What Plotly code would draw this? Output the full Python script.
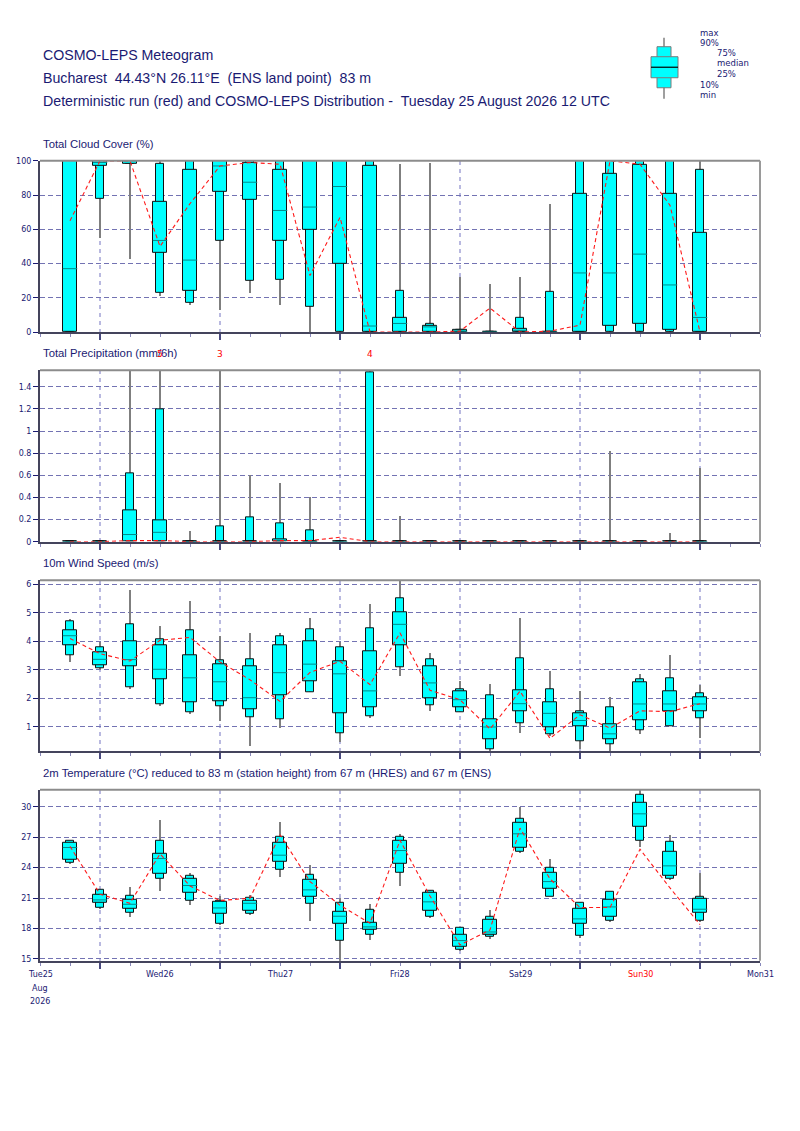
import plotly.graph_objects as go

# time axis: hours after Tue 25 Aug 2026 12 UTC
hours = [6, 12, 18, 24, 30, 36, 42, 48, 54, 60, 66,
         72, 78, 84, 90, 96, 102, 108, 114, 120, 126, 132]
midnight_hours = [12, 36, 60, 84, 108, 132]
day_hours = [0, 24, 48, 72, 96, 120, 144]
day_labels = ['Tue25', 'Wed26', 'Thu27', 'Fri28', 'Sat29', 'Sun30', 'Mon31']
day_colors = ['#1a1a72', '#1a1a72', '#1a1a72', '#1a1a72', '#1a1a72', 'red', '#1a1a72']
first_day_extra = ['Aug', '2026']

# Total cloud cover (%)
cc_min = [0, 55, 43, 21, 16, 13, 23, 16, 0, 0, 0, 0, 0, 0, 0, 0, 0, 0, 0, 0, 0, 0]
cc_p10 = [0, 78, 98, 23, 17, 53, 30, 30.5, 15, 0, 0, 0, 0, 0, 0, 0, 0, 0, 0, 0, 0, 0]
cc_p25 = [0, 97, 98, 46, 24, 82, 77, 53.5, 59.5, 40, 0, 0, 0, 0, 0, 0, 0, 0, 3.5, 5, 1.5, 0]
cc_med = [37, 99, 100, 53.5, 42, 97, 87.5, 71, 73, 85, 3.5, 5, 3, 0.5, 0, 1, 0, 34.5, 34.5, 45.5, 27.5, 8.5]
cc_p75 = [100, 100, 100, 76, 95, 100, 99, 95, 100, 100, 97, 8, 3.5, 1, 0, 2, 0, 81, 92.5, 97.5, 81, 58]
cc_p90 = [100, 100, 100, 98, 100, 100, 100, 100, 100, 100, 100, 24, 4.5, 1, 0, 8.5, 23.5, 100, 100, 100, 100, 94.5]
cc_max = [100, 100, 100, 100, 100, 100, 100, 100, 100, 100, 100, 98, 99, 32, 28, 32, 75, 100, 100, 100, 100, 100]
cc_det = [65, 100, 100, 50, 75, 97, 99, 98, 33, 67, 0, 0, 0, 0.5, 14, 0, 0.5, 4, 100, 98, 74, 0]

# Total precipitation (mm/6h)
tp_min = [0] * 22
tp_p10 = [0] * 22
tp_p25 = [0] * 22
tp_med = [0, 0, 0.065, 0.085, 0, 0, 0, 0.01, 0.003, 0, 0, 0, 0, 0, 0, 0, 0, 0, 0, 0, 0, 0]
tp_p75 = [0, 0, 0.28, 0.19, 0, 0, 0, 0.02, 0.005, 0, 0, 0, 0, 0, 0, 0, 0, 0, 0, 0, 0, 0]
tp_p90 = [0, 0, 0.62, 1.2, 0, 0.14, 0.22, 0.165, 0.1, 0, 1.53, 0, 0, 0, 0, 0, 0, 0, 0, 0, 0, 0]
tp_max = [0, 0.01, 1.54, 5, 0.09, 3, 0.6, 0.53, 0.4, 0.01, 4, 0.23, 0, 0, 0, 0, 0, 0, 0.82, 0, 0.075, 0.66]
tp_det = [0, 0, 0.01, 0.01, 0, 0, 0, 0.01, 0.01, 0.04, 0, 0, 0, 0, 0, 0, 0, 0, 0, 0, 0, 0]

# 10m wind speed (m/s)
ws_min = [3.28, 2.98, 2.32, 1.72, 1.43, 1.2, 0.3, 0.93, 2.2, 0.46, 1.28, 2.76, 1.56, 1.5, 0.15, 0.77, 0.65, 0.2, 0.15, 0.75, 1.0, 0.6]
ws_p10 = [3.5, 3.05, 2.38, 1.78, 1.51, 1.71, 1.33, 1.25, 2.2, 0.76, 1.36, 3.1, 1.76, 1.5, 0.21, 1.13, 0.74, 0.49, 0.4, 0.86, 1.0, 1.31]
ws_p25 = [3.88, 3.17, 3.12, 2.68, 1.85, 1.9, 1.6, 2.09, 2.59, 1.49, 1.69, 3.88, 2.0, 1.67, 0.56, 1.55, 0.99, 1.0, 0.55, 1.24, 1.54, 1.55]
ws_med = [4.2, 3.37, 3.36, 3.02, 2.72, 2.58, 2.02, 2.9, 3.2, 2.86, 2.26, 4.6, 2.54, 1.95, 0.99, 1.81, 1.47, 1.22, 0.75, 1.8, 1.8, 1.8]
ws_p75 = [4.4, 3.63, 4.01, 3.85, 3.5, 3.19, 3.11, 3.85, 3.99, 3.31, 3.64, 5.04, 3.12, 2.23, 1.27, 2.27, 1.85, 1.47, 1.1, 2.58, 2.24, 2.03]
ws_p90 = [4.7, 3.78, 4.62, 4.09, 4.38, 3.35, 3.38, 4.18, 4.41, 3.81, 4.45, 5.5, 3.36, 2.3, 2.09, 3.42, 2.31, 1.55, 1.7, 2.68, 2.7, 2.19]
ws_max = [4.79, 3.97, 5.79, 4.55, 5.42, 4.17, 4.3, 4.3, 4.83, 3.97, 5.3, 6.2, 3.57, 2.59, 2.48, 4.8, 2.95, 2.24, 2.05, 2.86, 3.52, 2.44]
ws_det = [4.1, 3.57, 3.31, 4.04, 4.14, 3.28, 2.65, 1.89, 2.91, 3.3, 2.48, 4.3, 2.28, 1.95, 0.92, 2.25, 0.59, 1.42, 0.95, 1.56, 1.53, 1.81]

# 2m temperature (C)
t2_min = [24.41, 19.9, 19.11, 21.74, 20.36, 18.4, 19.4, 23.13, 18.75, 14.8, 16.88, 22.2, 19.01, 15.85, 16.94, 25.5, 21.2, 17.1, 18.7, 26.09, 22.85, 18.65]
t2_p10 = [24.47, 20.07, 19.57, 22.86, 20.76, 18.45, 19.44, 23.82, 20.43, 16.81, 17.37, 23.52, 19.14, 15.89, 17.2, 25.53, 21.09, 17.27, 18.75, 26.68, 22.86, 18.72]
t2_p25 = [24.74, 20.56, 19.97, 23.42, 21.55, 19.47, 19.77, 24.6, 21.15, 18.42, 17.83, 24.38, 19.77, 16.18, 17.34, 25.95, 21.91, 18.42, 19.18, 28.0, 23.19, 19.57]
t2_med = [25.99, 20.82, 20.39, 24.9, 22.24, 20.03, 20.49, 25.23, 21.81, 19.21, 18.16, 25.69, 20.63, 16.81, 17.66, 27.34, 22.63, 18.95, 20.13, 29.31, 24.18, 19.9]
t2_p75 = [26.41, 21.32, 20.79, 25.36, 22.89, 20.63, 20.76, 26.45, 22.83, 19.64, 18.59, 26.61, 21.48, 17.37, 18.82, 28.39, 23.45, 19.9, 20.82, 30.36, 25.53, 20.89]
t2_p90 = [26.61, 21.81, 21.18, 26.64, 23.19, 20.72, 20.99, 27.0, 23.26, 20.49, 19.84, 27.0, 21.71, 18.06, 19.11, 28.82, 23.95, 20.53, 21.58, 31.22, 26.58, 21.09]
t2_max = [26.65, 21.85, 22.07, 28.75, 23.52, 21.22, 21.35, 28.55, 24.31, 21.05, 20.46, 27.3, 21.81, 18.06, 19.84, 29.97, 24.84, 20.66, 21.6, 31.8, 27.24, 23.52]
t2_det = [26.1, 21.38, 20.49, 25.36, 22.2, 20.76, 20.99, 27.24, 22.63, 20.3, 18.52, 26.7, 21.2, 16.38, 17.86, 27.9, 22.89, 20.07, 20.07, 25.82, 22.0, 18.39]

W, H = 800, 1131
OFF = 8  # default page margin around the plot div
NAVY = '#1a1a72'
TITLE_FONT = 'Liberation Sans, Arial'
TICK_FONT = 'DejaVu Sans'


def px(x):
    # page pixel column -> paper fraction
    return (x - OFF) / W


def py(y):
    # page pixel row -> paper fraction (small vertical correction seen in the snapshot)
    y = (y - 3.4) / 0.991
    return 1 - (y - OFF) / H


# pixel rows of each panel: (top, bottom)
panels = [
    dict(title='Total Cloud Cover (%)', rows=(160, 331), yrange=[0, 100],
         ticks=[0, 20, 40, 60, 80, 100],
         stats=(cc_min, cc_p10, cc_p25, cc_med, cc_p75, cc_p90, cc_max), det=cc_det),
    dict(title='Total Precipitation (mm/6h)', rows=(369.3, 540.5), yrange=[0, 1.548],
         ticks=[0, 0.2, 0.4, 0.6, 0.8, 1, 1.2, 1.4],
         stats=(tp_min, tp_p10, tp_p25, tp_med, tp_p75, tp_p90, tp_max), det=tp_det),
    dict(title='10m Wind Speed (m/s)', rows=(579, 750), yrange=[0.13, 6.15],
         ticks=[1, 2, 3, 4, 5, 6],
         stats=(ws_min, ws_p10, ws_p25, ws_med, ws_p75, ws_p90, ws_max), det=ws_det),
    dict(title='2m Temperature (°C) reduced to 83 m (station height) from 67 m (HRES) and 67 m (ENS)',
         rows=(788.3, 959), yrange=[14.83, 31.68],
         ticks=[15, 18, 21, 24, 27, 30],
         stats=(t2_min, t2_p10, t2_p25, t2_med, t2_p75, t2_p90, t2_max), det=t2_det),
]

fig = go.Figure()
annotations = []
shapes = []

for n, p in enumerate(panels, start=1):
    xa = 'x' if n == 1 else f'x{n}'
    ya = 'y' if n == 1 else f'y{n}'
    mn, p10, p25, med, p75, p90, mx = p['stats']

    # whisker
    fig.add_bar(x=hours, y=[b - a for a, b in zip(mn, mx)], base=mn, width=0.45,
                marker=dict(color='#7f7f7f', line_width=0),
                xaxis=xa, yaxis=ya, showlegend=False, hoverinfo='skip')
    # 10-90 box
    fig.add_bar(x=hours, y=[b - a for a, b in zip(p10, p90)], base=p10, width=1.45,
                marker=dict(color='#00ffff', line=dict(color='#111111', width=1)),
                xaxis=xa, yaxis=ya, showlegend=False, hoverinfo='skip')
    # 25-75 box
    fig.add_bar(x=hours, y=[b - a for a, b in zip(p25, p75)], base=p25, width=2.9,
                marker=dict(color='#00ffff', line=dict(color='#111111', width=1)),
                xaxis=xa, yaxis=ya, showlegend=False, hoverinfo='skip')
    # median
    md_x, md_y = [], []
    for h, m in zip(hours, med):
        md_x += [h - 1.45, h + 1.45, None]
        md_y += [m, m, None]
    fig.add_scatter(x=md_x, y=md_y, mode='lines', line=dict(color='#008b8b', width=1),
                    xaxis=xa, yaxis=ya, showlegend=False, hoverinfo='skip')
    # deterministic run
    fig.add_scatter(x=hours, y=p['det'], mode='lines',
                    line=dict(color='#ff1a1a', width=1.1, dash='4px,3px'),
                    xaxis=xa, yaxis=ya, showlegend=False, hoverinfo='skip')

    top, bottom = p['rows']
    axis_key = 'xaxis' if n == 1 else f'xaxis{n}'
    yaxis_key = 'yaxis' if n == 1 else f'yaxis{n}'
    fig.update_layout({
        axis_key: dict(
            domain=[px(40), px(760)], range=[0, 144], anchor=ya,
            tickmode='array', tickvals=midnight_hours, showticklabels=False,
            ticks='outside', ticklen=6, tickwidth=1.5, tickcolor='#4a4a80',
            showgrid=True, gridcolor='#b9b9e0', gridwidth=2, griddash='4px,4px',
            showline=True, linecolor='#44445c', linewidth=2, zeroline=False,
            minor=dict(tickmode='linear', tick0=0, dtick=6, ticks='outside',
                       ticklen=3, tickcolor='#8888bb', tickwidth=1, showgrid=False),
            fixedrange=True,
        ),
        yaxis_key: dict(
            domain=[py(bottom), py(top)], range=p['yrange'], anchor=xa,
            tickmode='array', tickvals=p['ticks'],
            ticks='outside', ticklen=5, tickwidth=1, tickcolor=NAVY,
            tickfont=dict(family=TICK_FONT, size=8, color=NAVY),
            showgrid=True, gridcolor='#7373b3', gridwidth=1, griddash='5px,3px',
            showline=True, linecolor='#44445c', linewidth=2, zeroline=False,
            fixedrange=True,
        ),
    })
    # top and right frame
    shapes.append(dict(type='line', xref=f'{xa} domain', yref=f'{ya} domain',
                       x0=0, x1=1, y0=1, y1=1, line=dict(color='#8c8c8c', width=2)))
    shapes.append(dict(type='line', xref=f'{xa} domain', yref=f'{ya} domain',
                       x0=1, x1=1, y0=0, y1=1, line=dict(color='#9a9a9a', width=2)))
    annotations.append(dict(text=p['title'], xref='paper', yref='paper',
                            x=px(41), y=py(top - 17), xanchor='left', yanchor='middle',
                            showarrow=False,
                            font=dict(family=TITLE_FONT, size=11.3, color=NAVY)))

    # values beyond the top of the axis
    for h, v in zip(hours, mx):
        if v > p['yrange'][1] * 1.2:
            annotations.append(dict(text=str(int(round(v))), x=h, xref=xa,
                                    y=1, yref=f'{ya} domain', yanchor='bottom', yshift=9,
                                    showarrow=False,
                                    font=dict(family=TICK_FONT, size=9, color='red')))

# day labels on bottom axis
for h, lab, col in zip(day_hours, day_labels, day_colors):
    annotations.append(dict(text=lab, x=h, xref='x4', y=py(973), yref='paper',
                            yanchor='middle', showarrow=False,
                            font=dict(family=TICK_FONT, size=8, color=col)))
for i, lab in enumerate(first_day_extra):
    annotations.append(dict(text=lab, x=day_hours[0], xref='x4', y=py(987 + 13 * i),
                            yref='paper', yanchor='middle', showarrow=False,
                            font=dict(family=TICK_FONT, size=8, color=NAVY)))

# header
header = ['COSMO-LEPS Meteogram',
          'Bucharest  44.43°N 26.11°E  (ENS land point)  83 m',
          'Deterministic run (red) and COSMO-LEPS Distribution -  Tuesday 25 August 2026 12 UTC']
for line, yy in zip(header, [54, 77, 100]):
    annotations.append(dict(text=line, xref='paper', yref='paper', x=px(41), y=py(yy),
                            xanchor='left', yanchor='middle', showarrow=False,
                            font=dict(family=TITLE_FONT, size=14.2, color=NAVY)))

# legend glyph
shapes += [
    dict(type='line', xref='paper', yref='paper', x0=px(664), x1=px(664), y0=py(37), y1=py(98),
         line=dict(color='#7f7f7f', width=1.5)),
    dict(type='rect', xref='paper', yref='paper', x0=px(657), x1=px(671), y0=py(46), y1=py(87),
         fillcolor='#00ffff', line=dict(color='#7a7a7a', width=1)),
    dict(type='rect', xref='paper', yref='paper', x0=px(651), x1=px(678), y0=py(56), y1=py(77),
         fillcolor='#00ffff', line=dict(color='#7a7a7a', width=1)),
    dict(type='line', xref='paper', yref='paper', x0=px(651), x1=px(678), y0=py(66.5), y1=py(66.5),
         line=dict(color='black', width=1.2)),
]
legend_items = [('max', 698, 32), ('90%', 698, 42.5), ('75%', 715, 52), ('median', 715, 62.5),
                ('25%', 715, 73), ('10%', 698, 84), ('min', 698, 94.5)]
for lab, lx, ly in legend_items:
    annotations.append(dict(text=lab, xref='paper', yref='paper', x=px(lx), y=py(ly),
                            xanchor='left', yanchor='middle', showarrow=False,
                            font=dict(family=TICK_FONT, size=8.5, color=NAVY)))

fig.update_layout(
    width=W, height=H, autosize=False,
    margin=dict(l=0, r=0, t=0, b=0),
    paper_bgcolor='white', plot_bgcolor='white',
    barmode='overlay', bargap=0,
    showlegend=False,
    annotations=annotations, shapes=shapes,
)

fig.write_html('out.html')
